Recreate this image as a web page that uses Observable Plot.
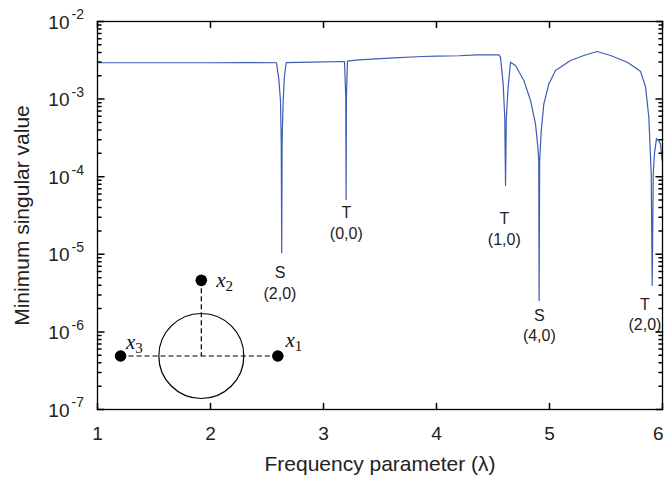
<!DOCTYPE html>
<html><head><meta charset="utf-8">
<script src="https://cdn.jsdelivr.net/npm/d3@7"></script>
<script src="https://cdn.jsdelivr.net/npm/@observablehq/plot@0.6"></script>
<style>
body{margin:0;background:#fff;}
#wrap{position:relative;width:664px;height:480px;overflow:hidden;}
#inset{position:absolute;left:100px;top:260px;}
</style></head><body><div id="wrap"><div id="main"></div><div id="inset"></div></div>
<script>
// Frequency parameter (lambda) and minimum singular value
const lambda = [1.00, 1.50, 2.00, 2.30, 2.584, 2.605, 2.619, 2.626, 2.630, 2.634, 2.643, 2.655, 2.670, 2.90, 3.186, 3.197, 3.200, 3.203, 3.212, 3.313, 3.622, 3.873, 4.00, 4.20, 4.36, 4.552, 4.566, 4.590, 4.604, 4.611, 4.618, 4.634, 4.655, 4.699, 4.773, 4.832, 4.876, 4.897, 4.905, 4.908, 4.913, 4.927, 4.950, 4.994, 5.053, 5.186, 5.304, 5.422, 5.540, 5.688, 5.805, 5.850, 5.879, 5.900, 5.909, 5.918, 5.929, 5.947, 5.967, 5.982, 5.997];
const minSV = [2.94e-3, 2.94e-3, 2.94e-3, 2.95e-3, 2.94e-3, 1.78e-3, 9.6e-4, 2.95e-4, 1.05e-5, 2.95e-4, 9.6e-4, 2.0e-3, 2.96e-3, 3.0e-3, 3.05e-3, 1.06e-3, 5.08e-5, 1.06e-3, 3.09e-3, 3.21e-3, 3.40e-3, 3.54e-3, 3.58e-3, 3.62e-3, 3.72e-3, 3.72e-3, 3.47e-3, 1.57e-3, 5.85e-4, 7.7e-5, 5.85e-4, 1.42e-3, 2.99e-3, 2.71e-3, 1.74e-3, 9.6e-4, 4.8e-4, 2.4e-4, 1.62e-4, 2.54e-6, 1.62e-4, 3.9e-4, 8.7e-4, 1.57e-3, 2.34e-3, 3.14e-3, 3.65e-3, 4.10e-3, 3.65e-3, 2.99e-3, 2.29e-3, 1.43e-3, 5.85e-4, 1.10e-4, 3.96e-6, 1.10e-4, 1.98e-4, 3.09e-4, 2.9e-4, 2.65e-4, 1.62e-4];

// axis ticks
const xTicks = [1, 2, 3, 4, 5, 6];
const yTicks = [1e-7, 1e-6, 1e-5, 1e-4, 1e-3, 1e-2];
const yExponents = ["-7", "-6", "-5", "-4", "-3", "-2"];
const yMinorTicks = d3.scaleLog().domain([1e-7, 1e-2]).ticks().filter(t => !yTicks.some(m => Math.abs(m - t) / m < 1e-6));

// mode annotations
const modeKinds = ["S", "T", "T", "S", "T"];
const modeLabels = ["(2,0)", "(0,0)", "(1,0)", "(4,0)", "(2,0)"];
const modeLambda = [2.615, 3.202, 4.60, 4.91, 5.845];
const modeLabelSV = [4.46e-6, 2.6e-5, 2.18e-5, 1.25e-6, 1.73e-6];

// inset schematic (unit = circle radius)
const sourceSub = ["1", "2", "3"];
const sourceX = [1.8, 0, -1.9];
const sourceY = [0, 1.78, 0];
const circleX = [0];
const circleY = [0];

const series = lambda.map((l, i) => ({lambda: l, sv: minSV[i]}));
const modes = modeKinds.map((k, i) => ({text: k + "\n" + modeLabels[i], x: modeLambda[i], y: modeLabelSV[i]}));
const lastTick = xTicks[xTicks.length - 1];

const tickShape = {draw(context, l) { context.moveTo(0, 0); context.lineTo(0, -l); }};
const font = "'Liberation Sans', Arial, Helvetica, sans-serif";

const main = Plot.plot({
  width: 664, height: 480,
  marginLeft: 97, marginRight: 2, marginTop: 21, marginBottom: 71,
  x: {domain: [1, 6], axis: null},
  y: {type: "log", domain: [1e-7, 1e-2], axis: null},
  style: {fontFamily: font, fontSize: "19px", color: "#222", background: "white", overflow: "visible"},
  marks: [
    Plot.line(series, {x: "lambda", y: "sv", stroke: "#3d5db3", strokeWidth: 1.2}),
    Plot.text(modes, {x: "x", y: "y", text: "text", fontSize: 16, lineHeight: 1.3, fill: "#222"}),
    // ticks (inward)
    Plot.vector(xTicks, {x: d => d, frameAnchor: "bottom", length: 6, rotate: 0, anchor: "start", shape: tickShape, stroke: "black"}),
    Plot.vector(xTicks, {x: d => d, frameAnchor: "top", length: 6, rotate: 180, anchor: "start", shape: tickShape, stroke: "black"}),
    Plot.vector(yTicks, {y: d => d, frameAnchor: "left", length: 6.5, rotate: 90, anchor: "start", shape: tickShape, stroke: "black"}),
    Plot.vector(yTicks, {y: d => d, frameAnchor: "right", length: 6.5, rotate: -90, anchor: "start", shape: tickShape, stroke: "black"}),
    Plot.vector(yMinorTicks, {y: d => d, frameAnchor: "left", length: 3.5, rotate: 90, anchor: "start", shape: tickShape, stroke: "black"}),
    Plot.vector(yMinorTicks, {y: d => d, frameAnchor: "right", length: 3.5, rotate: -90, anchor: "start", shape: tickShape, stroke: "black"}),
    Plot.frame({stroke: "black", strokeWidth: 1.3}),
    // tick labels
    Plot.text(xTicks.filter(d => d !== lastTick), {x: d => d, frameAnchor: "bottom", dy: 24, lineAnchor: "middle", textAnchor: "middle", text: d => String(d), fill: "#222"}),
    Plot.text([lastTick], {x: d => d, frameAnchor: "bottom", dy: 24, dx: 1, lineAnchor: "middle", textAnchor: "end", text: d => String(d), fill: "#222"}),
    Plot.text(yTicks, {y: d => d, frameAnchor: "left", dx: -28, dy: 1, textAnchor: "end", lineAnchor: "middle", text: () => "10", fill: "#222"}),
    Plot.text(yTicks, {y: d => d, frameAnchor: "left", dx: -26, dy: -6.5, textAnchor: "start", lineAnchor: "middle", text: (d, i) => yExponents[i], fontSize: 14, fill: "#222"}),
    // axis titles
    Plot.text(["Minimum singular value"], {frameAnchor: "left", dx: -75, rotate: -90, textAnchor: "middle", lineAnchor: "middle", fontSize: 21, text: d => d, fill: "#222"}),
    Plot.text(["Frequency parameter (\u03bb)"], {frameAnchor: "bottom", dy: 55, textAnchor: "middle", lineAnchor: "middle", fontSize: 21, text: d => d, fill: "#222"})
  ]
});
document.getElementById("main").appendChild(main);

const serif = "'Liberation Serif', 'Times New Roman', serif";
const pts = sourceX.map((x, i) => ({x, y: sourceY[i], sub: sourceSub[i]}));
const labelMarks = [
  {i: 0, dx: 12.3, dy: -15.5},
  {i: 1, dx: 19.5, dy: 0},
  {i: 2, dx: 10, dy: -13.8}
].flatMap(({i, dx, dy}) => [
  Plot.text([pts[i]], {x: "x", y: "y", text: () => "x", dx, dy, fontStyle: "italic", fontFamily: serif, fontSize: 21, fill: "#111"}),
  Plot.text([pts[i]], {x: "x", y: "y", text: "sub", dx: dx + 8.5, dy: dy + 5.5, fontFamily: serif, fontSize: 15, fill: "#111"})
]);

const inset = Plot.plot({
  width: 210, height: 145, margin: 0,
  x: {domain: [-2.372, 2.569], axis: null},
  y: {domain: [-1.165, 2.247], axis: null},
  style: {background: "transparent", overflow: "visible"},
  marks: [
    Plot.link(pts, {x1: "x", y1: "y", x2: circleX[0], y2: circleY[0], stroke: "black", strokeWidth: 1.2, strokeDasharray: "5,3"}),
    Plot.dot(circleX.map((x, i) => ({x, y: circleY[i]})), {x: "x", y: "y", r: 42.5, stroke: "black", fill: "none", strokeWidth: 1.2}),
    Plot.dot(pts, {x: "x", y: "y", r: 5.8, fill: "black", stroke: "none"}),
    ...labelMarks
  ]
});
document.getElementById("inset").appendChild(inset);
</script>
</body></html>
